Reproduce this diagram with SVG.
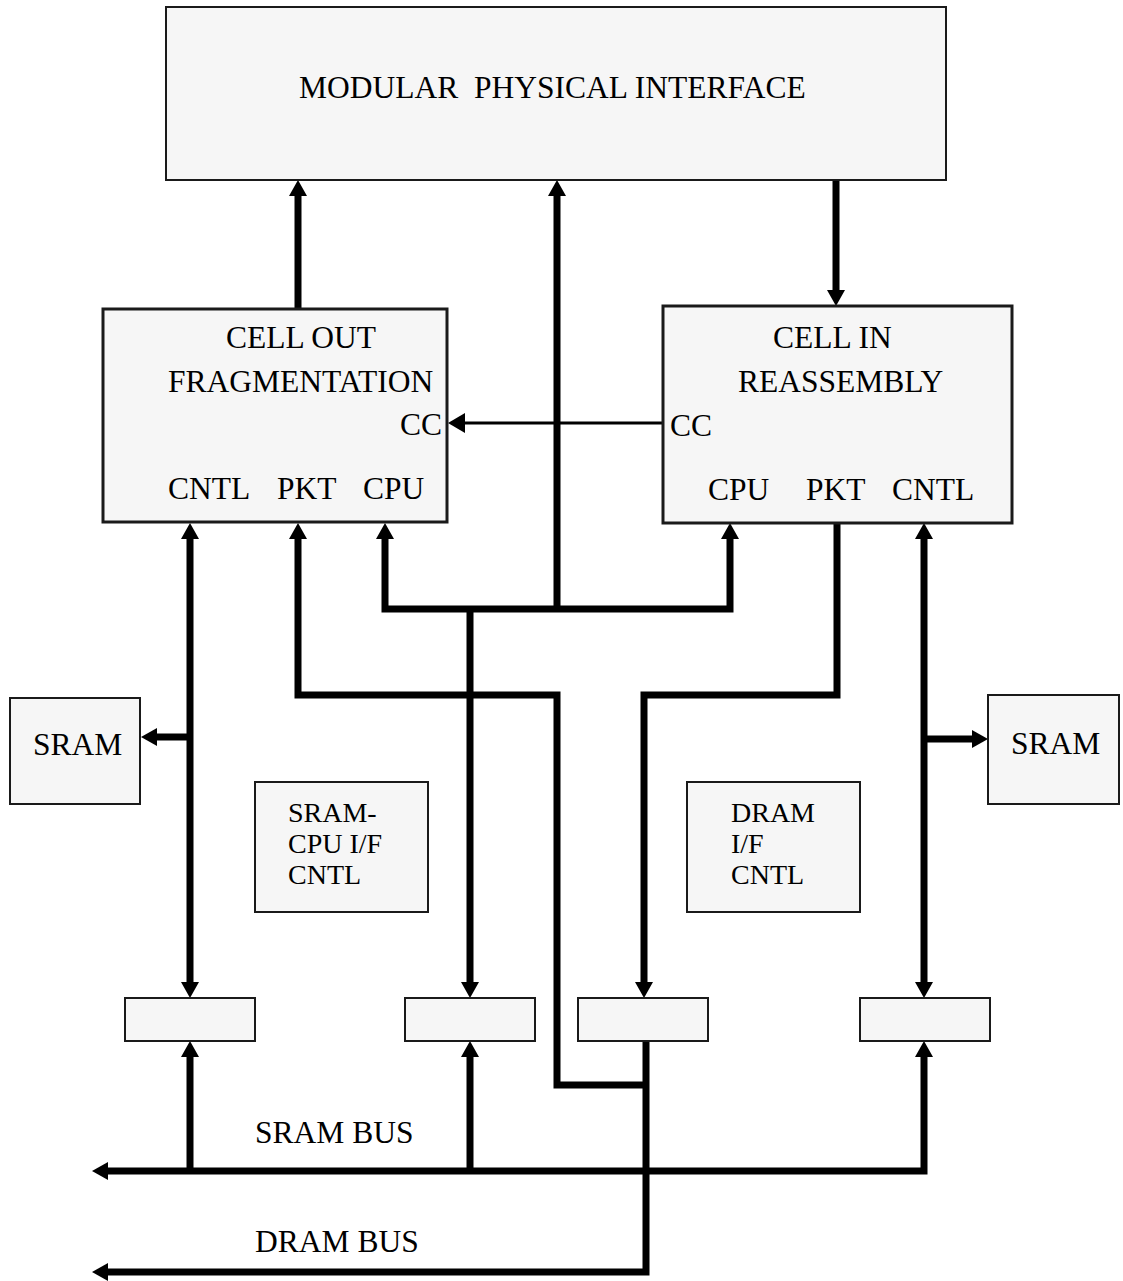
<svg xmlns="http://www.w3.org/2000/svg" width="1123" height="1281" viewBox="0 0 1123 1281">
<style>
  .box { fill: #f6f6f6; stroke: #1a1a1a; stroke-width: 2; }
  .cell { fill: #f6f6f6; stroke: #1a1a1a; stroke-width: 3; }
  .lbl { font-family: "Liberation Serif", "Times New Roman", serif; font-size: 31.5px; fill: #000; }
  .ml { font-size: 28px; }
  .bus { fill: none; stroke: #000; stroke-width: 7; stroke-linejoin: miter; stroke-linecap: butt; }
  .thin { fill: none; stroke: #000; stroke-width: 3; }
</style>
<defs>
  <marker id="ah" viewBox="0 0 16 18" refX="0" refY="9" markerWidth="16" markerHeight="18" markerUnits="userSpaceOnUse" orient="auto-start-reverse">
    <path d="M0,0 L16,9 L0,18 z" fill="#000"/>
  </marker>
  <marker id="ahThin" viewBox="0 0 17 20" refX="0" refY="10" markerWidth="17" markerHeight="20" markerUnits="userSpaceOnUse" orient="auto">
    <path d="M0,0 L17,10 L0,20 z" fill="#000"/>
  </marker>
</defs>

<g id="connectors">
  <path class="bus" d="M298,309 V196" marker-end="url(#ah)"/>
  <path class="bus" d="M836,180 V290" marker-end="url(#ah)"/>
  <path class="bus" d="M557,609 V196" marker-end="url(#ah)"/>
  <path class="bus" d="M470,609 H385 V539" marker-end="url(#ah)"/>
  <path class="bus" d="M470,609 H730 V539" marker-end="url(#ah)"/>
  <path class="bus" d="M470,609 V982" marker-end="url(#ah)"/>
  <path class="bus" d="M646,1085 H557 V695 H298 V539" marker-end="url(#ah)"/>
  <path class="bus" d="M837,523 V695 H644 V982" marker-end="url(#ah)"/>
  <path class="bus" d="M190,539 V982" marker-start="url(#ah)" marker-end="url(#ah)"/>
  <path class="bus" d="M924,539 V982" marker-start="url(#ah)" marker-end="url(#ah)"/>
  <path class="bus" d="M190,737 H157" marker-end="url(#ah)"/>
  <path class="bus" d="M924,739 H972" marker-end="url(#ah)"/>
  <path class="bus" d="M108,1171 H924 V1057" marker-start="url(#ah)" marker-end="url(#ah)"/>
  <path class="bus" d="M190,1171 V1057" marker-end="url(#ah)"/>
  <path class="bus" d="M470,1171 V1057" marker-end="url(#ah)"/>
  <path class="bus" d="M646,1041 V1272 H108" marker-end="url(#ah)"/>
  <path class="thin" d="M664,423 H465" marker-end="url(#ahThin)"/>
</g>

<g id="phy">
  <rect class="box" x="166" y="7" width="780" height="173"/>
  <text class="lbl" x="299" y="98">MODULAR<tspan x="474">PHYSICAL INTERFACE</tspan></text>
</g>

<g id="cell-out">
  <rect class="cell" x="103" y="309" width="344" height="213"/>
  <text class="lbl" x="301" y="348" text-anchor="middle">CELL OUT</text>
  <text class="lbl" x="168" y="392">FRAGMENTATION</text>
  <text class="lbl" x="400" y="435">CC</text>
  <text class="lbl" x="168" y="499">CNTL</text>
  <text class="lbl" x="277" y="499">PKT</text>
  <text class="lbl" x="363" y="499">CPU</text>
</g>

<g id="cell-in">
  <rect class="cell" x="663" y="306" width="349" height="217"/>
  <text class="lbl" x="773" y="348">CELL IN</text>
  <text class="lbl" x="738" y="392">REASSEMBLY</text>
  <text class="lbl" x="670" y="436">CC</text>
  <text class="lbl" x="708" y="500">CPU</text>
  <text class="lbl" x="806" y="500">PKT</text>
  <text class="lbl" x="892" y="500">CNTL</text>
</g>

<g id="sram-left">
  <rect class="box" x="10" y="698" width="130" height="106"/>
  <text class="lbl" x="33" y="755">SRAM</text>
</g>

<g id="sram-right">
  <rect class="box" x="988" y="695" width="131" height="109"/>
  <text class="lbl" x="1011" y="754">SRAM</text>
</g>

<g id="sram-cpu-if">
  <rect class="box" x="255" y="782" width="173" height="130"/>
  <text class="lbl ml" x="288" y="822">SRAM-</text>
  <text class="lbl ml" x="288" y="853">CPU I/F</text>
  <text class="lbl ml" x="288" y="884">CNTL</text>
</g>

<g id="dram-if">
  <rect class="box" x="687" y="782" width="173" height="130"/>
  <text class="lbl ml" x="731" y="822">DRAM</text>
  <text class="lbl ml" x="731" y="853">I/F</text>
  <text class="lbl ml" x="731" y="884">CNTL</text>
</g>

<g id="buf1"><rect class="box" x="125" y="998" width="130" height="43"/></g>
<g id="buf2"><rect class="box" x="405" y="998" width="130" height="43"/></g>
<g id="buf3"><rect class="box" x="578" y="998" width="130" height="43"/></g>
<g id="buf4"><rect class="box" x="860" y="998" width="130" height="43"/></g>

<g id="bus-labels">
  <text class="lbl" x="255" y="1143">SRAM BUS</text>
  <text class="lbl" x="255" y="1252">DRAM BUS</text>
</g>
</svg>
